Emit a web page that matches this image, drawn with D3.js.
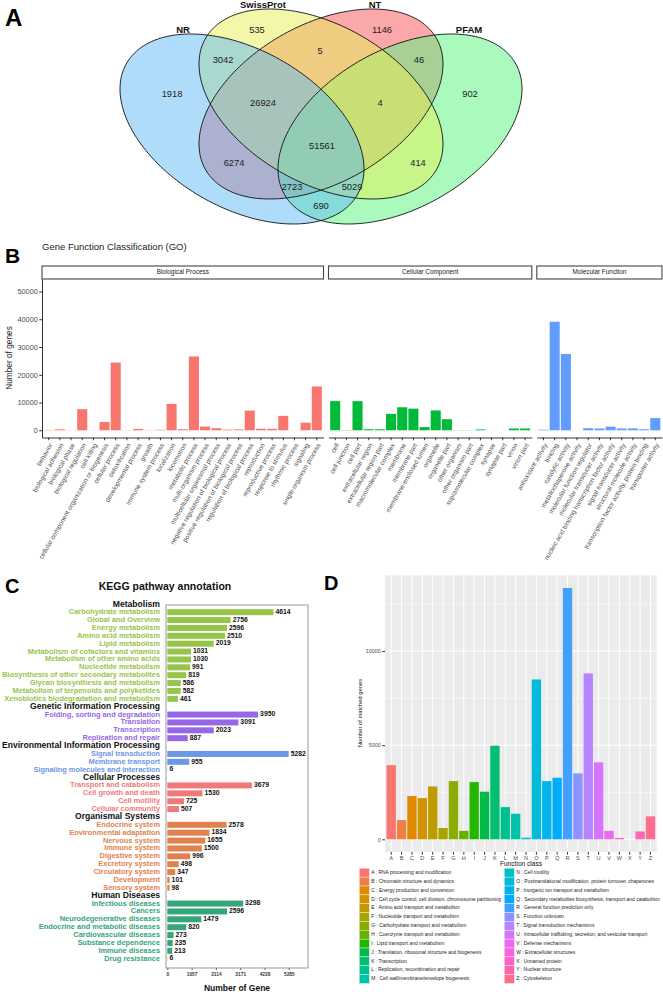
<!DOCTYPE html>
<html><head><meta charset="utf-8">
<script src="https://cdn.jsdelivr.net/npm/d3@7"></script>
<style>
body{margin:0;background:#fff;}
svg{display:block;font-family:"Liberation Sans",Arial,sans-serif;}
</style></head><body>
<svg id="fig" width="663" height="992"></svg>
<script>
// ================= DATA =================
// Panel A: Venn
const vennSets = ["NR", "SwissProt", "NT", "PFAM"];
const vennRegions = ["NR", "SwissProt", "NT", "PFAM", "NR&SwissProt", "SwissProt&NT", "NT&PFAM",
  "NR&SwissProt&NT", "SwissProt&NT&PFAM", "NR&SwissProt&NT&PFAM", "NR&NT", "SwissProt&PFAM",
  "NR&NT&PFAM", "NR&SwissProt&PFAM", "NR&PFAM"];
const vennCounts = [1918, 535, 1146, 902, 3042, 5, 46, 26924, 4, 51561, 6274, 414, 2723, 5029, 690];

// Panel B: GO
const goFacets = ["Biological Process", "Cellular Component", "Molecular Function"];
const goBP = ["behavior", "biological adhesion", "biological phase", "biological regulation", "cell killing",
  "cellular component organization or biogenesis", "cellular process", "detoxification", "developmental process",
  "growth", "immune system process", "localization", "locomotion", "metabolic process", "multi-organism process",
  "multicellular organismal process", "negative regulation of biological process",
  "positive regulation of biological process", "regulation of biological process", "reproduction",
  "reproductive process", "response to stimulus", "rhythmic process", "signaling", "single-organism process"];
const goBPValues = [120, 350, 60, 7600, 40, 3000, 24400, 60, 500, 60, 180, 9500, 380, 26600, 1350, 750, 250, 320,
  7100, 550, 550, 5200, 40, 2750, 15800];
const goCC = ["cell", "cell junction", "cell part", "extracellular region", "extracellular region part",
  "macromolecular complex", "membrane", "membrane part", "membrane-enclosed lumen", "organelle", "organelle part",
  "other organism", "other organism part", "supramolecular complex", "synapse", "synapse part", "virion", "virion part"];
const goCCValues = [10500, 80, 10500, 400, 380, 5900, 8300, 7800, 1150, 7150, 4000, 60, 60, 300, 15, 15, 650, 650];
const goMF = ["antioxidant activity", "binding", "catalytic activity", "metallochaperone activity",
  "molecular function regulator", "molecular transducer activity",
  "nucleic acid binding transcription factor activity", "signal transducer activity",
  "structural molecule activity", "transcription factor activity, protein binding", "transporter activity"];
const goMFValues = [220, 39100, 27500, 10, 750, 650, 1300, 650, 680, 380, 4400];
const goYTicks = [0, 10000, 20000, 30000, 40000, 50000];

// Panel C: KEGG
const keggGroups = ["Metabolism", "Genetic Information Processing", "Environmental Information Processing",
  "Cellular Processes", "Organismal Systems", "Human Diseases"];
const keggMetabolism = ["Carbohydrate metabolism", "Global and Overview", "Energy metabolism", "Amino acid metabolism",
  "Lipid metabolism", "Metabolism of cofactors and vitamins", "Metabolism of other amino acids",
  "Nucleotide metabolism", "Biosynthesis of other secondary metabolites", "Glycan biosynthesis and metabolism",
  "Metabolism of terpenoids and polyketides", "Xenobiotics biodegradation and metabolism"];
const keggMetabolismValues = [4614, 2756, 2596, 2510, 2019, 1031, 1030, 991, 819, 586, 582, 461];
const keggGenetic = ["Folding, sorting and degradation", "Translation", "Transcription", "Replication and repair"];
const keggGeneticValues = [3950, 3091, 2023, 887];
const keggEnvironmental = ["Signal transduction", "Membrane transport", "Signaling molecules and interaction"];
const keggEnvironmentalValues = [5282, 955, 6];
const keggCellular = ["Transport and catabolism", "Cell growth and death", "Cell motility", "Cellular community"];
const keggCellularValues = [3679, 1530, 725, 507];
const keggOrganismal = ["Endocrine system", "Environmental adaptation", "Nervous system", "Immune system",
  "Digestive system", "Excretory system", "Circulatory system", "Development", "Sensory system"];
const keggOrganismalValues = [2578, 1834, 1655, 1500, 996, 498, 347, 101, 98];
const keggHuman = ["Infectious diseases", "Cancers", "Neurodegenerative diseases", "Endocrine and metabolic diseases",
  "Cardiovascular diseases", "Substance dependence", "Immune diseases", "Drug resistance"];
const keggHumanValues = [3298, 2596, 1479, 820, 273, 235, 213, 6];
const keggXTicks = [0, 1057, 2114, 3171, 4228, 5285];

// Panel D: COG
const cogClasses = ["A","B","C","D","E","F","G","H","I","J","K","L","M","N","O","P","Q","R","S","T","U","V","W","X","Y","Z"];
const cogValues = [3940, 1020, 2300, 2190, 2810, 600, 3090, 450, 3040, 2530, 4970, 1710, 1360, 85, 8490, 3090, 3270,
  13350, 3500, 8810, 4090, 450, 70, 0, 420, 1220];
const cogDescriptions = ["RNA processing and modification", "Chromatin structure and dynamics",
  "Energy production and conversion", "Cell cycle control, cell division, chromosome partitioning",
  "Amino acid transport and metabolism", "Nucleotide transport and metabolism",
  "Carbohydrate transport and metabolism", "Coenzyme transport and metabolism", "Lipid transport and metabolism",
  "Translation, ribosomal structure and biogenesis", "Transcription", "Replication, recombination and repair",
  "Cell wall/membrane/envelope biogenesis", "Cell motility",
  "Posttranslational modification, protein turnover, chaperones", "Inorganic ion transport and metabolism",
  "Secondary metabolites biosynthesis, transport and catabolism", "General function prediction only",
  "Function unknown", "Signal transduction mechanisms",
  "Intracellular trafficking, secretion, and vesicular transport", "Defense mechanisms",
  "Extracellular structures", "Unnamed protein", "Nuclear structure", "Cytoskeleton"];
const cogYTicks = [0, 5000, 10000];

// ================= DRAW =================
const svg = d3.select("#fig");
const FONT = '"Liberation Sans",Arial,sans-serif';
const fmtInt = d3.format("d");

function panelLetter(t, x, y, size, family) {
  svg.append("text").attr("x", x).attr("y", y).attr("font-size", size).attr("font-weight", "bold")
    .attr("font-family", family || FONT).attr("fill", "#000").text(t);
}

// ---------- Panel A: Venn ----------
panelLetter("A", 5, 26, 24, '"Liberation Sans Narrow","Liberation Sans",Arial,sans-serif');
const vennShape = {
  NR:        {cx: 242, cy: 129, W: 122, H: 95, e: 40,  fill: "rgb(95,185,245)"},
  SwissProt: {cx: 321, cy: 104, W: 122, H: 95, e: 40,  fill: "rgb(229,239,85)"},
  NT:        {cx: 321, cy: 104, W: 122, H: 95, e: -40, fill: "rgb(245,81,85)"},
  PFAM:      {cx: 400, cy: 129, W: 122, H: 95, e: -40, fill: "rgb(85,245,125)"}
};
const vennDrawOrder = ["NT", "PFAM", "SwissProt", "NR"];
const vennSetLabelPos = {NR: [183, 30.5], SwissProt: [263, 5], NT: [375, 5], PFAM: [469, 30.5]};
const vennRegionPos = {
  "NR": [172, 95], "SwissProt": [257, 31], "NT": [382, 31], "PFAM": [470, 95],
  "NR&SwissProt": [223, 61], "SwissProt&NT": [320, 52], "NT&PFAM": [419, 61],
  "NR&SwissProt&NT": [263, 104], "SwissProt&NT&PFAM": [380, 104], "NR&SwissProt&NT&PFAM": [322, 147],
  "NR&NT": [234, 164], "SwissProt&PFAM": [418, 164], "NR&NT&PFAM": [292, 188], "NR&SwissProt&PFAM": [352, 188],
  "NR&PFAM": [321, 207]
};
function ellipsePts(s) {
  const sv = Math.sqrt(s.H * s.H - s.e * s.e);
  return d3.range(0, 360, 2).map(a => {
    const t = a * Math.PI / 180;
    return [s.cx + s.W * Math.cos(t), s.cy + s.e * Math.cos(t) + sv * Math.sin(t)];
  });
}
const line = d3.line().curve(d3.curveCardinalClosed);
const gV = svg.append("g");
vennDrawOrder.forEach(k => {
  gV.append("path").attr("d", line(ellipsePts(vennShape[k])))
    .attr("fill", vennShape[k].fill).attr("fill-opacity", 0.5).attr("stroke", "none");
});
vennDrawOrder.forEach(k => {
  gV.append("path").attr("d", line(ellipsePts(vennShape[k])))
    .attr("fill", "none").attr("stroke", "#111").attr("stroke-width", 0.9);
});
vennSets.forEach(k => {
  gV.append("text").attr("x", vennSetLabelPos[k][0]).attr("y", vennSetLabelPos[k][1])
    .attr("text-anchor", "middle").attr("dominant-baseline", "middle").attr("font-size", 9.5)
    .attr("font-weight", "bold").attr("fill", "#111").text(k);
});
vennRegions.forEach((r, i) => {
  gV.append("text").attr("x", vennRegionPos[r][0]).attr("y", vennRegionPos[r][1])
    .attr("text-anchor", "middle").attr("dominant-baseline", "middle").attr("font-size", 9.3)
    .attr("fill", "#222").text(vennCounts[i]);
});

// ---------- Panel B: GO ----------
panelLetter("B", 5, 263, 21);
svg.append("text").attr("x", 42).attr("y", 250).attr("font-size", 9.5).attr("fill", "#222")
  .text("Gene Function Classification (GO)");
const goY = d3.scaleLinear().domain([-2595, 54495]).range([437.5, 279]);
const goData = [
  {facet: goFacets[0], cats: goBP, vals: goBPValues, color: "#F8766D", range: [42, 323.5]},
  {facet: goFacets[1], cats: goCC, vals: goCCValues, color: "#00BA38", range: [328.5, 531.8]},
  {facet: goFacets[2], cats: goMF, vals: goMFValues, color: "#619CFF", range: [536.8, 662]}
];
goData.forEach(f => {
  const x = d3.scaleBand().domain(f.cats).range(f.range).paddingInner(0.1).paddingOuter(0.15);
  svg.append("rect").attr("x", f.range[0]).attr("y", 266).attr("width", f.range[1] - f.range[0]).attr("height", 13)
    .attr("fill", "#fff").attr("stroke", "#444").attr("stroke-width", 1.1);
  svg.append("text").attr("x", (f.range[0] + f.range[1]) / 2).attr("y", 272.7).attr("text-anchor", "middle")
    .attr("dominant-baseline", "middle").attr("font-size", 6.4).attr("fill", "#1a1a1a").text(f.facet);
  svg.append("g").selectAll("rect").data(f.cats).join("rect")
    .attr("x", d => x(d)).attr("width", x.bandwidth())
    .attr("y", (d, i) => goY(f.vals[i])).attr("height", (d, i) => goY(0) - goY(f.vals[i]))
    .attr("fill", f.color);
  const ax = svg.append("g").attr("transform", "translate(0,437.5)")
    .call(d3.axisBottom(x).tickSize(2.75).tickSizeOuter(0));
  ax.select(".domain").attr("stroke", "#333").attr("stroke-width", 1);
  ax.selectAll(".tick line").attr("stroke", "#333");
  ax.selectAll(".tick text").attr("font-size", 6.5).attr("fill", "#4d4d4d").attr("font-family", FONT)
    .attr("text-anchor", "end").attr("x", 0).attr("y", 0).attr("dy", "0.72em")
    .attr("transform", "translate(0,5) rotate(-60)");
});
const gyAx = svg.append("g").attr("transform", "translate(42,0)")
  .call(d3.axisLeft(goY).tickValues(goYTicks).tickFormat(fmtInt).tickSize(2.75).tickSizeOuter(0).tickPadding(1.5));
gyAx.select(".domain").attr("stroke", "#333").attr("stroke-width", 1);
gyAx.selectAll(".tick line").attr("stroke", "#333");
gyAx.selectAll(".tick text").attr("font-size", 7.3).attr("fill", "#4d4d4d").attr("font-family", FONT);
svg.append("text").attr("transform", "translate(12,358) rotate(-90)").attr("text-anchor", "middle")
  .attr("font-size", 8.3).attr("fill", "#222").text("Number of genes");

// ---------- Panel C: KEGG ----------
panelLetter("C", 5, 593, 20);
svg.append("text").attr("x", 165).attr("y", 590).attr("text-anchor", "middle").attr("font-size", 10.5)
  .attr("font-weight", "bold").attr("fill", "#111").text("KEGG pathway annotation");
const keggColors = ["#97C54A", "#9668E8", "#6A98E6", "#F07A7A", "#E0824E", "#36A57A"];
const keggItems = [
  [keggMetabolism, keggMetabolismValues], [keggGenetic, keggGeneticValues],
  [keggEnvironmental, keggEnvironmentalValues], [keggCellular, keggCellularValues],
  [keggOrganismal, keggOrganismalValues], [keggHuman, keggHumanValues]
];
const keggRows = [];
keggGroups.forEach((g, gi) => {
  keggRows.push({type: "header", label: g, gi});
  keggItems[gi][0].forEach((lab, j) => keggRows.push({type: "item", label: lab, value: keggItems[gi][1][j], gi}));
});
const kY = d3.scalePoint().domain(d3.range(keggRows.length)).range([604.3, 958.7]);
const kX = d3.scaleLinear().domain([0, 6120]).range([167.3, 308]);
svg.append("rect").attr("x", 166).attr("y", 605).attr("width", 142).attr("height", 363)
  .attr("fill", "none").attr("stroke", "#999").attr("stroke-width", 1);
const gK = svg.append("g");
keggRows.forEach((r, i) => {
  const y = kY(i);
  if (r.type === "header") {
    gK.append("text").attr("x", 160).attr("y", y).attr("text-anchor", "end").attr("dominant-baseline", "middle")
      .attr("font-size", 8.6).attr("font-weight", "bold").attr("fill", "#111").text(r.label);
  } else {
    gK.append("text").attr("x", 160).attr("y", y).attr("text-anchor", "end").attr("dominant-baseline", "middle")
      .attr("font-size", 7.4).attr("font-weight", "bold").attr("fill", keggColors[r.gi]).text(r.label);
    gK.append("rect").attr("x", kX(0)).attr("y", y - 3).attr("width", kX(r.value) - kX(0)).attr("height", 6)
      .attr("fill", keggColors[r.gi]);
    gK.append("text").attr("x", kX(r.value) + 2).attr("y", y).attr("dominant-baseline", "middle")
      .attr("font-size", 6.8).attr("font-weight", "bold").attr("fill", "#111").text(r.value);
  }
});
const kAx = svg.append("g").attr("transform", "translate(0,968)")
  .call(d3.axisBottom(kX).tickValues(keggXTicks).tickFormat(fmtInt).tickSize(2).tickSizeOuter(0).tickPadding(3));
kAx.select(".domain").remove();
kAx.selectAll(".tick line").attr("stroke", "#666");
kAx.selectAll(".tick text").attr("font-size", 4.8).attr("font-weight", "bold").attr("fill", "#333")
  .attr("font-family", FONT);
svg.append("text").attr("x", 237).attr("y", 991).attr("text-anchor", "middle").attr("font-size", 8.5)
  .attr("font-weight", "bold").attr("fill", "#111").text("Number of Gene");

// ---------- Panel D: COG ----------
panelLetter("D", 324, 589.5, 20);
function hclLuv(h, c, l) {
  const hr = h * Math.PI / 180, U = c * Math.cos(hr), V = c * Math.sin(hr);
  const Xn = 95.047, Yn = 100, Zn = 108.883;
  const un = 4 * Xn / (Xn + 15 * Yn + 3 * Zn), vn = 9 * Yn / (Xn + 15 * Yn + 3 * Zn);
  const Y = l > 8 ? Yn * Math.pow((l + 16) / 116, 3) : Yn * l / 903.3;
  const up = U / (13 * l) + un, vp = V / (13 * l) + vn;
  const X = 9 * Y * up / (4 * vp), Z = Y * (12 - 3 * up - 20 * vp) / (4 * vp);
  const x = X / 100, y = Y / 100, z = Z / 100;
  let r = 3.2404542 * x - 1.5371385 * y - 0.4985314 * z;
  let g = -0.9692660 * x + 1.8760108 * y + 0.0415560 * z;
  let b = 0.0556434 * x - 0.2040259 * y + 1.0572252 * z;
  const gam = v => { v = v <= 0.0031308 ? 12.92 * v : 1.055 * Math.pow(v, 1 / 2.4) - 0.055; return Math.round(255 * Math.max(0, Math.min(1, v))); };
  return `rgb(${gam(r)},${gam(g)},${gam(b)})`;
}
const cogColor = d3.scaleOrdinal().domain(cogClasses)
  .range(cogClasses.map((d, i) => hclLuv(15 + i * 360 / cogClasses.length, 100, 65)));
const cX = d3.scaleBand().domain(cogClasses).range([385, 656.7]).paddingInner(0.1).paddingOuter(0.15);
const cY = d3.scaleLinear().domain([-668, 14023]).range([851.9, 575.3]);
const gD = svg.append("g");
gD.append("rect").attr("x", 385).attr("y", 575.3).attr("width", 656.7 - 385).attr("height", 851.9 - 575.3)
  .attr("fill", "#EBEBEB");
[2500, 7500, 12500].forEach(v => gD.append("line").attr("x1", 385).attr("x2", 656.7)
  .attr("y1", cY(v)).attr("y2", cY(v)).attr("stroke", "#fff").attr("stroke-width", 0.5));
cogYTicks.forEach(v => gD.append("line").attr("x1", 385).attr("x2", 656.7)
  .attr("y1", cY(v)).attr("y2", cY(v)).attr("stroke", "#fff").attr("stroke-width", 1));
cogClasses.forEach(c => gD.append("line").attr("x1", cX(c) + cX.bandwidth() / 2).attr("x2", cX(c) + cX.bandwidth() / 2)
  .attr("y1", 575.3).attr("y2", 851.9).attr("stroke", "#fff").attr("stroke-width", 1));
gD.append("g").selectAll("rect").data(cogClasses).join("rect")
  .attr("x", d => cX(d)).attr("width", cX.bandwidth())
  .attr("y", (d, i) => cY(cogValues[i])).attr("height", (d, i) => cY(0) - cY(cogValues[i]))
  .attr("fill", d => cogColor(d));
const cyAx = svg.append("g").attr("transform", "translate(385,0)")
  .call(d3.axisLeft(cY).tickValues(cogYTicks).tickFormat(fmtInt).tickSize(2.75).tickPadding(1.5));
cyAx.select(".domain").remove();
cyAx.selectAll(".tick line").attr("stroke", "#333");
cyAx.selectAll(".tick text").attr("font-size", 5.4).attr("fill", "#4d4d4d").attr("font-family", FONT);
const cxAx = svg.append("g").attr("transform", "translate(0,851.9)")
  .call(d3.axisBottom(cX).tickSize(2.75).tickPadding(1.5));
cxAx.select(".domain").remove();
cxAx.selectAll(".tick line").attr("stroke", "#333");
cxAx.selectAll(".tick text").attr("font-size", 5.6).attr("fill", "#4d4d4d").attr("font-family", FONT);
svg.append("text").attr("x", 521).attr("y", 865.5).attr("text-anchor", "middle").attr("font-size", 6.6)
  .attr("fill", "#111").text("Function class");
svg.append("text").attr("transform", "translate(361.5,713) rotate(-90)").attr("text-anchor", "middle")
  .attr("font-size", 5.8).attr("fill", "#111").text("Number of matched genes");
const legRowH = 8.86;
cogClasses.forEach((c, i) => {
  const col = i < 13 ? 0 : 1, row = i % 13;
  const kx = col === 0 ? 359.3 : 504.3;
  const cy = 872.7 + row * legRowH;
  gD.append("rect").attr("x", kx).attr("y", cy - legRowH / 2).attr("width", 10).attr("height", legRowH)
    .attr("fill", cogColor(c)).attr("stroke", "#f2f2f2").attr("stroke-width", 0.4);
  gD.append("text").attr("x", kx + 12).attr("y", cy).attr("dominant-baseline", "middle")
    .attr("font-size", 4.95).attr("fill", "#222").text(`${c} : ${cogDescriptions[i]}`);
});
</script>
</body></html>
